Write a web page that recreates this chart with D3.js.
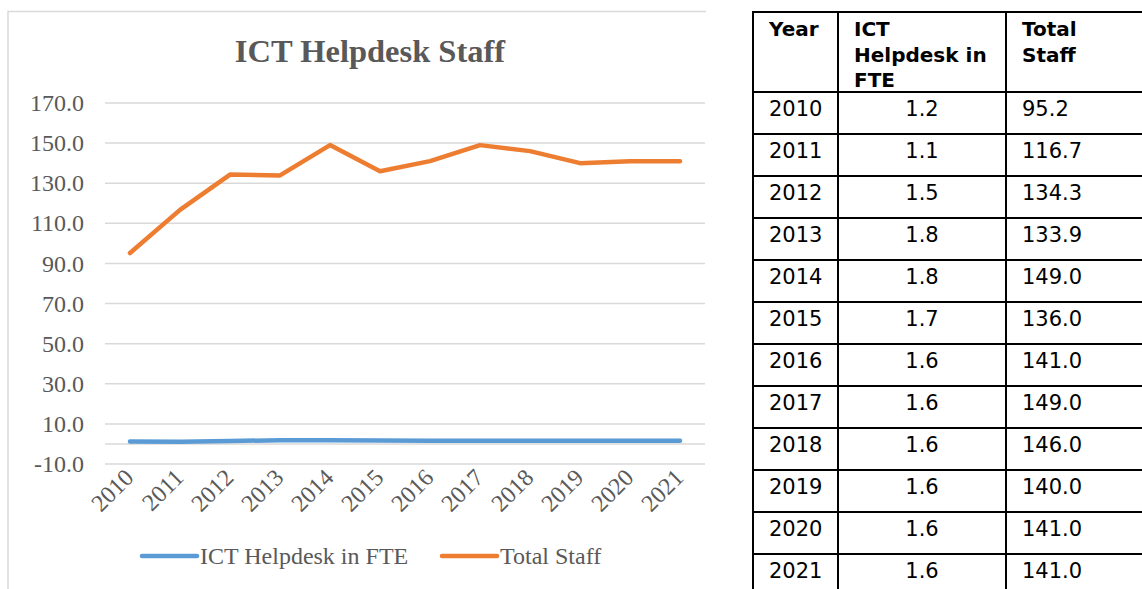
<!DOCTYPE html>
<html>
<head>
<meta charset="utf-8">
<script src="https://cdn.jsdelivr.net/npm/d3@7"></script>
<style>
  body { margin: 0; background: #fff; }
  svg { display: block; }
</style>
</head>
<body>
<div id="chart"></div>
<script>
var years = ["2010", "2011", "2012", "2013", "2014", "2015", "2016", "2017", "2018", "2019", "2020", "2021"];
var ictFte = [1.2, 1.1, 1.5, 1.8, 1.8, 1.7, 1.6, 1.6, 1.6, 1.6, 1.6, 1.6];
var totalStaff = [95.2, 116.7, 134.3, 133.9, 149.0, 136.0, 141.0, 149.0, 146.0, 140.0, 141.0, 141.0];
var yTicks = [-10, 10, 30, 50, 70, 90, 110, 130, 150, 170];
var seriesNames = ["ICT Helpdesk in FTE", "Total Staff"];
var tableHeaders = [["Year"], ["ICT", "Helpdesk in", "FTE"], ["Total", "Staff"]];

var width = 1142;
var height = 589;
var textColor = "#595959";
var gridColor = "#d9d9d9";
var colors = ["#5b9bd5", "#ed7d31"];
var fmt = function(v) { return d3.format(".1f")(v).replace("\u2212", "-"); };

var svg = d3.select("#chart")
  .append("svg")
  .attr("width", width)
  .attr("height", height);

// chart frame (left + top edges only, the screenshot is cropped)
svg.append("path")
  .attr("d", "M8," + height + "V11.5H706")
  .attr("fill", "none")
  .attr("stroke", gridColor)
  .attr("stroke-width", 1.5);

// Title
svg.append("text")
  .attr("x", 370)
  .attr("y", 62)
  .attr("text-anchor", "middle")
  .style("font-family", "'Liberation Serif', serif")
  .style("font-weight", "bold")
  .style("font-size", "32.5px")
  .style("fill", textColor)
  .text("ICT Helpdesk Staff");

// Scales
var x = d3.scaleBand()
  .domain(years)
  .range([105, 705]);

var y = d3.scaleLinear()
  .domain([-10, 170])
  .range([464, 103]);

function cx(d) { return x(d) + x.bandwidth() / 2; }

// Gridlines (plus the category axis at zero)
svg.append("g")
  .selectAll("line")
  .data(yTicks.concat([0]))
  .enter().append("line")
  .attr("x1", 105)
  .attr("x2", 705)
  .attr("y1", function(d) { return y(d); })
  .attr("y2", function(d) { return y(d); })
  .attr("stroke", gridColor)
  .attr("stroke-width", 1.5);

// Y axis labels
svg.append("g")
  .selectAll("text")
  .data(yTicks)
  .enter().append("text")
  .attr("x", 84)
  .attr("y", function(d) { return y(d); })
  .attr("dy", "0.34em")
  .attr("text-anchor", "end")
  .style("font-family", "'Liberation Serif', serif")
  .style("font-size", "24px")
  .style("fill", textColor)
  .text(fmt);

// X axis labels, rotated
svg.append("g")
  .selectAll("text")
  .data(years)
  .enter().append("text")
  .attr("transform", function(d) {
    return "translate(" + (cx(d) + 5) + "," + 479 + ") rotate(-45)";
  })
  .attr("text-anchor", "end")
  .style("font-family", "'Liberation Serif', serif")
  .style("font-size", "24px")
  .style("fill", textColor)
  .text(function(d) { return d; });

// Lines
var line = d3.line()
  .x(function(d, i) { return cx(years[i]); })
  .y(function(d) { return y(d); });

[ictFte, totalStaff].forEach(function(values, i) {
  svg.append("path")
    .datum(values)
    .attr("d", line)
    .attr("fill", "none")
    .attr("stroke", colors[i])
    .attr("stroke-width", 4.5)
    .attr("stroke-linecap", "round")
    .attr("stroke-linejoin", "round");
});

// Legend
var legendX = [142, 442];
var legend = svg.append("g")
  .selectAll("g")
  .data(seriesNames)
  .enter().append("g")
  .attr("transform", function(d, i) { return "translate(" + legendX[i] + ",556)"; });

legend.append("line")
  .attr("x1", 0)
  .attr("x2", 55)
  .attr("stroke", function(d, i) { return colors[i]; })
  .attr("stroke-width", 4.5)
  .attr("stroke-linecap", "round");

legend.append("text")
  .attr("x", 58)
  .attr("dy", "0.34em")
  .style("font-family", "'Liberation Serif', serif")
  .style("font-size", "24px")
  .style("fill", textColor)
  .text(function(d) { return d; });

// Table on the right
var colX = [753, 838, 1006];
var tableTop = 12;
var headerBottom = 92;
var rowH = 42;
var tableFont = "'DejaVu Sans', Verdana, sans-serif";
var table = svg.append("g");

var rows = years.map(function(yr, i) {
  return [yr, fmt(ictFte[i]), fmt(totalStaff[i])];
});

// header text
tableHeaders.forEach(function(lines, c) {
  table.append("text")
    .selectAll("tspan")
    .data(lines)
    .enter().append("tspan")
    .attr("x", colX[c] + 16)
    .attr("y", function(d, j) { return 36 + j * 25.5; })
    .text(function(d) { return d; });
});
table.selectAll("text")
  .style("font-family", tableFont)
  .style("font-weight", "bold")
  .style("font-size", "20px")
  .style("fill", "#000");

// body cells
var rowG = table.selectAll("g.row")
  .data(rows)
  .enter().append("g")
  .attr("class", "row")
  .attr("transform", function(d, i) { return "translate(0," + (headerBottom + i * rowH) + ")"; });

rowG.selectAll("text")
  .data(function(d) { return d; })
  .enter().append("text")
  .attr("x", function(d, c) { return c === 1 ? (colX[1] + colX[2]) / 2 : colX[c] + 16; })
  .attr("y", 24)
  .attr("text-anchor", function(d, c) { return c === 1 ? "middle" : "start"; })
  .style("font-family", tableFont)
  .style("font-size", "21px")
  .style("fill", "#000")
  .text(function(d) { return d; });

// grid of the table
var hLines = [tableTop, headerBottom].concat(rows.map(function(d, i) { return headerBottom + (i + 1) * rowH; }));
table.selectAll("line.h")
  .data(hLines)
  .enter().append("line")
  .attr("class", "h")
  .attr("x1", colX[0] - 1)
  .attr("x2", width)
  .attr("y1", function(d) { return d; })
  .attr("y2", function(d) { return d; })
  .attr("stroke", "#000")
  .attr("stroke-width", 2);

table.selectAll("line.v")
  .data(colX)
  .enter().append("line")
  .attr("class", "v")
  .attr("x1", function(d) { return d; })
  .attr("x2", function(d) { return d; })
  .attr("y1", tableTop - 1)
  .attr("y2", height)
  .attr("stroke", "#000")
  .attr("stroke-width", 2);
</script>
</body>
</html>
